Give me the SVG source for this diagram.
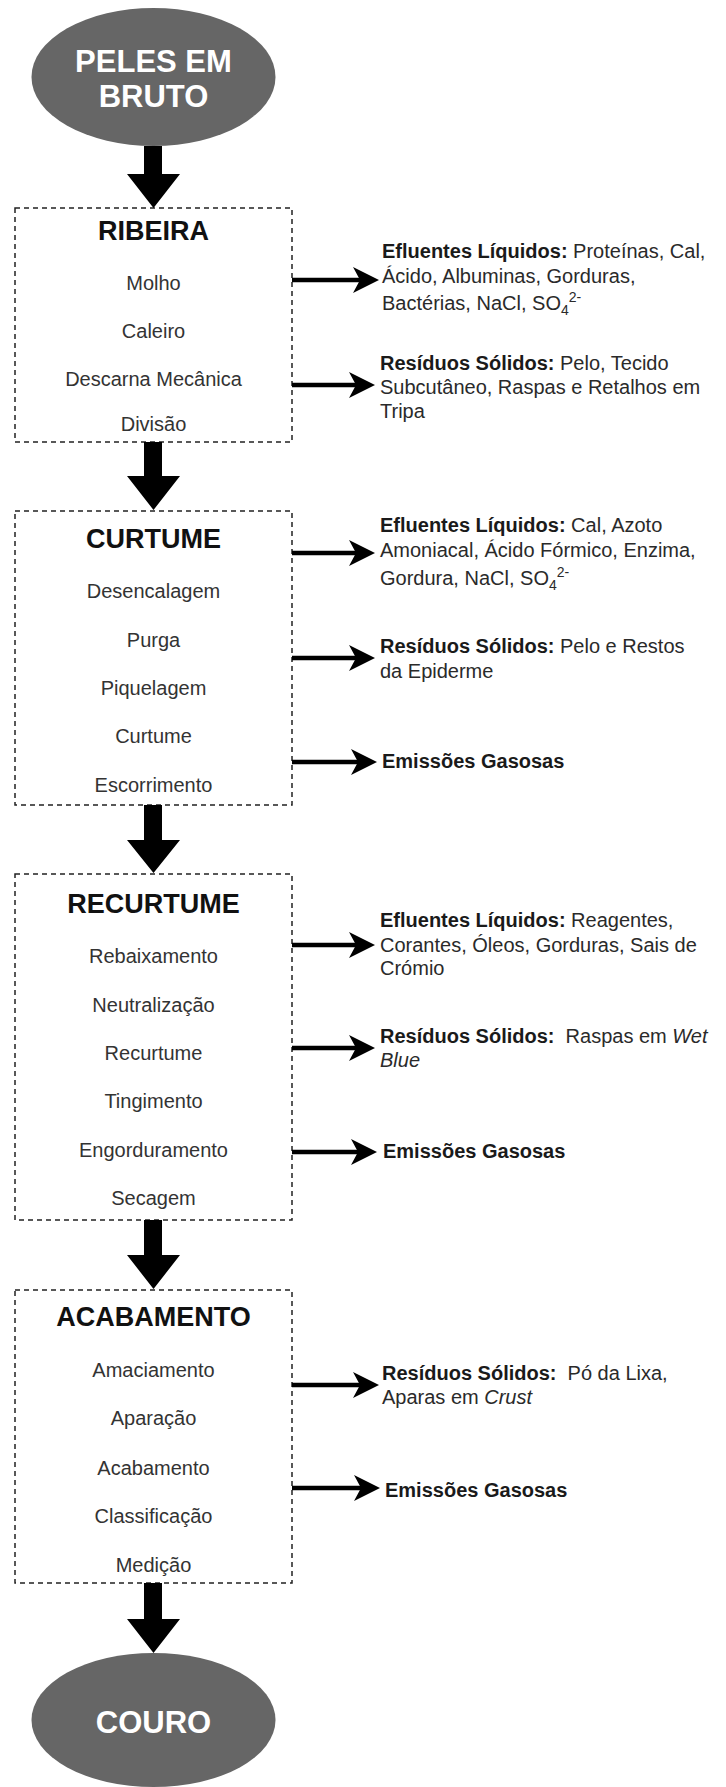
<svg xmlns="http://www.w3.org/2000/svg" width="726" height="1787" viewBox="0 0 726 1787">
<style>
  .term { fill: #666666; }
  .termtxt { font-family: "Liberation Sans", Arial, sans-serif; font-size: 31px; font-weight: bold; fill: #ffffff; text-anchor: middle; }
  .box { fill: #ffffff; stroke: #222222; stroke-width: 1.5; stroke-dasharray: 5 4; }
  .title { font-family: "Liberation Sans", Arial, sans-serif; font-size: 27px; font-weight: bold; fill: #111111; text-anchor: middle; }
  .item { font-family: "Liberation Sans", Arial, sans-serif; font-size: 20px; fill: #333333; text-anchor: middle; }
  .lbl { font-family: "Liberation Sans", Arial, sans-serif; font-size: 20px; fill: #2a2a2a; }
  .lbl .b { font-weight: bold; fill: #1a1a1a; }
  .lbl .i { font-style: italic; }
  .down { fill: #000000; }
  .out { stroke: #000000; stroke-width: 4.5; fill: none; }
  .head { fill: #000000; }
</style>

<g id="peles-em-bruto">
  <ellipse class="term" cx="153.5" cy="77" rx="122" ry="69"/>
  <text class="termtxt" x="153.5" y="72">PELES EM</text>
  <text class="termtxt" x="153.5" y="107">BRUTO</text>
</g>

<g id="ribeira">
  <rect class="box" x="15" y="208" width="277" height="234"/>
  <text class="title" x="153.5" y="240">RIBEIRA</text>
  <text class="item" x="153.5" y="290">Molho</text>
  <text class="item" x="153.5" y="338">Caleiro</text>
  <text class="item" x="153.5" y="386">Descarna Mecânica</text>
  <text class="item" x="153.5" y="431">Divisão</text>
</g>

<g id="curtume">
  <rect class="box" x="15" y="511" width="277" height="294"/>
  <text class="title" x="153.5" y="548">CURTUME</text>
  <text class="item" x="153.5" y="598">Desencalagem</text>
  <text class="item" x="153.5" y="647">Purga</text>
  <text class="item" x="153.5" y="695">Piquelagem</text>
  <text class="item" x="153.5" y="743">Curtume</text>
  <text class="item" x="153.5" y="792">Escorrimento</text>
</g>

<g id="recurtume">
  <rect class="box" x="15" y="874" width="277" height="346"/>
  <text class="title" x="153.5" y="913">RECURTUME</text>
  <text class="item" x="153.5" y="963">Rebaixamento</text>
  <text class="item" x="153.5" y="1012">Neutralização</text>
  <text class="item" x="153.5" y="1060">Recurtume</text>
  <text class="item" x="153.5" y="1108">Tingimento</text>
  <text class="item" x="153.5" y="1157">Engorduramento</text>
  <text class="item" x="153.5" y="1205">Secagem</text>
</g>

<g id="acabamento">
  <rect class="box" x="15" y="1290" width="277" height="293"/>
  <text class="title" x="153.5" y="1326">ACABAMENTO</text>
  <text class="item" x="153.5" y="1377">Amaciamento</text>
  <text class="item" x="153.5" y="1425">Aparação</text>
  <text class="item" x="153.5" y="1475">Acabamento</text>
  <text class="item" x="153.5" y="1523">Classificação</text>
  <text class="item" x="153.5" y="1572">Medição</text>
</g>

<g id="couro">
  <ellipse class="term" cx="153.5" cy="1720" rx="122" ry="67"/>
  <text class="termtxt" x="153.5" y="1733">COURO</text>
</g>

<g id="outputs-ribeira">
  <text class="lbl" x="382" y="258"><tspan class="b">Efluentes Líquidos:</tspan> Proteínas, Cal,</text>
  <text class="lbl" x="382" y="283">Ácido, Albuminas, Gorduras,</text>
  <text class="lbl" x="382" y="310">Bactérias, NaCl, SO<tspan font-size="14" dy="5">4</tspan><tspan font-size="14" dy="-13">2-</tspan></text>
  <text class="lbl" x="380" y="370"><tspan class="b">Resíduos Sólidos:</tspan> Pelo, Tecido</text>
  <text class="lbl" x="380" y="394">Subcutâneo, Raspas e Retalhos em</text>
  <text class="lbl" x="380" y="418">Tripa</text>
</g>

<g id="outputs-curtume">
  <text class="lbl" x="380" y="532"><tspan class="b">Efluentes Líquidos:</tspan> Cal, Azoto</text>
  <text class="lbl" x="380" y="557">Amoniacal, Ácido Fórmico, Enzima,</text>
  <text class="lbl" x="380" y="585">Gordura, NaCl, SO<tspan font-size="14" dy="5">4</tspan><tspan font-size="14" dy="-13">2-</tspan></text>
  <text class="lbl" x="380" y="653"><tspan class="b">Resíduos Sólidos:</tspan> Pelo e Restos</text>
  <text class="lbl" x="380" y="678">da Epiderme</text>
  <text class="lbl" x="382" y="768"><tspan class="b">Emissões Gasosas</tspan></text>
</g>

<g id="outputs-recurtume">
  <text class="lbl" x="380" y="927"><tspan class="b">Efluentes Líquidos:</tspan> Reagentes,</text>
  <text class="lbl" x="380" y="952">Corantes, Óleos, Gorduras, Sais de</text>
  <text class="lbl" x="380" y="975">Crómio</text>
  <text class="lbl" x="380" y="1043" xml:space="preserve"><tspan class="b">Resíduos Sólidos:</tspan>  Raspas em <tspan class="i">Wet</tspan></text>
  <text class="lbl" x="380" y="1067"><tspan class="i">Blue</tspan></text>
  <text class="lbl" x="383" y="1158"><tspan class="b">Emissões Gasosas</tspan></text>
</g>

<g id="outputs-acabamento">
  <text class="lbl" x="382" y="1380" xml:space="preserve"><tspan class="b">Resíduos Sólidos:</tspan>  Pó da Lixa,</text>
  <text class="lbl" x="382" y="1404">Aparas em <tspan class="i">Crust</tspan></text>
  <text class="lbl" x="385" y="1497"><tspan class="b">Emissões Gasosas</tspan></text>
</g>

<g id="connectors">
  <path class="down" d="M144,146 L162,146 L162,174 L180,174 L153.5,208 L127,174 L144,174 Z"/>
  <path class="down" d="M144,442 L162,442 L162,476 L180,476 L153.5,510 L127,476 L144,476 Z"/>
  <path class="down" d="M144,805 L162,805 L162,840 L180,840 L153.5,873 L127,840 L144,840 Z"/>
  <path class="down" d="M144,1220 L162,1220 L162,1255 L180,1255 L153.5,1289 L127,1255 L144,1255 Z"/>
  <path class="down" d="M144,1583 L162,1583 L162,1619 L180,1619 L153.5,1653 L127,1619 L144,1619 Z"/>

  <line class="out" x1="292" y1="280" x2="368" y2="280"/>
  <path class="head" d="M379,280 L353,267 L360,280 L353,293 Z"/>
  <line class="out" x1="292" y1="385" x2="364" y2="385"/>
  <path class="head" d="M375,385 L349,372 L356,385 L349,398 Z"/>

  <line class="out" x1="292" y1="553" x2="364" y2="553"/>
  <path class="head" d="M375,553 L349,540 L356,553 L349,566 Z"/>
  <line class="out" x1="292" y1="658" x2="364" y2="658"/>
  <path class="head" d="M375,658 L349,645 L356,658 L349,671 Z"/>
  <line class="out" x1="292" y1="762" x2="366" y2="762"/>
  <path class="head" d="M377,762 L351,749 L358,762 L351,775 Z"/>

  <line class="out" x1="292" y1="945" x2="364" y2="945"/>
  <path class="head" d="M375,945 L349,932 L356,945 L349,958 Z"/>
  <line class="out" x1="292" y1="1048" x2="364" y2="1048"/>
  <path class="head" d="M375,1048 L349,1035 L356,1048 L349,1061 Z"/>
  <line class="out" x1="292" y1="1152" x2="366" y2="1152"/>
  <path class="head" d="M377,1152 L351,1139 L358,1152 L351,1165 Z"/>

  <line class="out" x1="292" y1="1385" x2="368" y2="1385"/>
  <path class="head" d="M379,1385 L353,1372 L360,1385 L353,1398 Z"/>
  <line class="out" x1="292" y1="1488" x2="369" y2="1488"/>
  <path class="head" d="M380,1488 L354,1475 L361,1488 L354,1501 Z"/>
</g>
</svg>
